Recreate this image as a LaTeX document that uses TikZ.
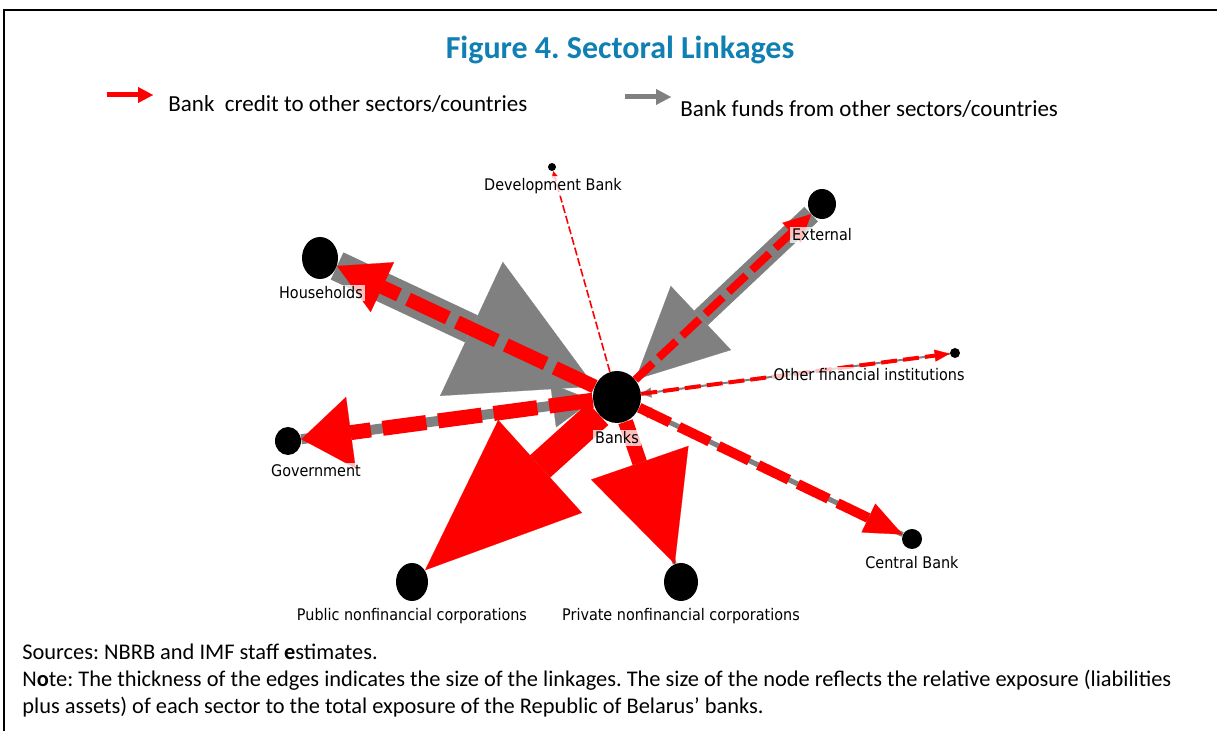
\documentclass[tikz,border=0pt]{standalone}
\usepackage{fontspec}
\setmainfont{Carlito}
\newfontfamily\netfont{DejaVu Sans Condensed}
\usepackage{tikz}
\usetikzlibrary{arrows.meta, shapes.geometric, backgrounds}
\definecolor{titleblue}{RGB}{16,128,178}
\definecolor{fundgray}{RGB}{128,128,128}
\definecolor{creditred}{RGB}{255,0,0}
\frenchspacing

\begin{document}
\begin{tikzpicture}[x=0.5pt, y=-0.5pt,
  sector/.style={ellipse, fill=black, inner sep=0pt},
  netlabel/.style={font=\netfont\fontsize{8}{9}\selectfont, fill=white, fill opacity=0.75, text opacity=1, inner sep=1pt},
  funds/.style={draw=fundgray},
  credit/.style={draw=creditred},
  note/.style={anchor=west, inner sep=0pt, font=\fontsize{11.2}{13}\selectfont}]
\useasboundingbox (0,0) rectangle (1217,731);
\draw[line width=1.2pt] (4,731) -- (4,10) -- (1217,10);

% title and legend
\node[font=\fontsize{16}{18}\selectfont\bfseries, text=titleblue] (title) at (620,50) {Figure 4. Sectoral Linkages};
\coordinate (cr-a) at (107,95);
\coordinate (cr-b) at (153,95);
\coordinate (fd-a) at (625,97);
\coordinate (fd-b) at (671,97);
\draw[credit, line width=2.5pt, -{Triangle[width=8pt, length=7.5pt, line width=0.1pt]}] (cr-a) -- (cr-b);
\draw[funds, line width=2.5pt, -{Triangle[width=8pt, length=7.5pt, line width=0.1pt]}] (fd-a) -- (fd-b);
\node[note, font=\fontsize{11.5}{14}\selectfont] (cr-text) at (168,104) {Bank\ \ credit to other sectors/countries};
\node[note, font=\fontsize{11.5}{14}\selectfont] (fd-text) at (680,109) {Bank funds from other sectors/countries};

% sectors
\node[sector, minimum width=24pt, minimum height=26pt] (banks) at (617,397) {};
\node[sector, minimum width=18pt, minimum height=21pt] (hh) at (320,258) {};
\node[sector, minimum width=14pt, minimum height=15pt] (ext) at (822,204) {};
\node[sector, minimum size=4pt] (devb) at (552,167) {};
\node[sector, minimum size=5pt] (ofi) at (955,353) {};
\node[sector, minimum width=13pt, minimum height=14pt] (gov) at (288,441) {};
\node[sector, minimum size=10pt] (cb) at (912,539) {};
\node[sector, minimum width=16pt, minimum height=19pt] (pub) at (412,582) {};
\node[sector, minimum width=17pt, minimum height=19pt] (priv) at (681,582) {};

\begin{scope}[on background layer]
% funds into the banks
\draw[funds, line width=15pt, -{Triangle[width=74pt, length=68pt, line width=0.1pt]}] (hh) -- (banks);
\draw[funds, line width=10pt, -{Triangle[width=44pt, length=45pt, line width=0.1pt]}] (ext) -- (banks);
\draw[funds, line width=5pt, -{Triangle[width=22pt, length=20pt, line width=0.1pt]}] (gov) -- (banks);
\draw[funds, line width=2.5pt, -{Triangle[width=6pt, length=6pt, line width=0.1pt]}] (cb) -- (banks);
\draw[funds, line width=1pt, -{Triangle[width=5pt, length=5pt, line width=0.1pt]}] (ofi) -- (banks);
\draw[funds, line width=2pt, -{Triangle[width=7pt, length=7pt, line width=0.1pt]}] (priv) -- (banks);
% credit from the banks
\draw[credit, line width=7pt, dash pattern=on 22pt off 5pt, -{Triangle[width=27.5pt, length=25pt, line width=0.1pt]}] (banks) -- (hh);
\draw[credit, line width=7.5pt, dash pattern=on 22pt off 6pt, -{Triangle[width=36pt, length=25pt, line width=0.1pt]}] (banks) -- (gov);
\draw[credit, line width=4pt, dash pattern=on 12pt off 4pt, -{Triangle[width=13.5pt, length=13.5pt, line width=0.1pt]}] (banks) -- (ext);
\draw[credit, line width=5pt, dash pattern=on 17pt off 5pt, -{Triangle[width=16pt, length=19pt, line width=0.1pt]}] (banks) -- (cb);
\draw[credit, line width=2pt, dash pattern=on 8pt off 3pt, -{Triangle[width=6pt, length=7.5pt, line width=0.1pt]}] (banks) -- (ofi);
\draw[credit, line width=0.8pt, dash pattern=on 4pt off 1.5pt, -{Triangle[width=3pt, length=3pt, line width=0.1pt]}] (banks) -- (devb);
\draw[credit, line width=15pt, -{Triangle[width=62.5pt, length=77.5pt, line width=0.1pt]}] (banks) -- (pub);
\draw[credit, line width=7.5pt, -{Triangle[width=51.5pt, length=53.5pt, line width=0.1pt]}] (banks) -- (priv);
\end{scope}

% sector names
\node[netlabel] (banks-lbl) at (617,438) {Banks};
\node[netlabel] (hh-lbl) at (321,293) {Households};
\node[netlabel] (ext-lbl) at (822,235) {External};
\node[netlabel] (devb-lbl) at (553,186) {Development Bank};
\node[netlabel] (ofi-lbl) at (869,375) {Other financial institutions};
\node[netlabel] (gov-lbl) at (316,471) {Government};
\node[netlabel] (cb-lbl) at (912,563) {Central Bank};
\node[netlabel] (pub-lbl) at (412,616) {Public nonfinancial corporations};
\node[netlabel] (priv-lbl) at (681,616) {Private nonfinancial corporations};

% notes
\node[note] (src) at (22,652) {Sources: NBRB and IMF staff \textbf{e}stimates.};
\node[note] (note1) at (22,680) {N\textbf{o}te: The thickness of the edges indicates the size of the linkages. The size of the node reflects the relative exposure (liabilities};
\node[note] (note2) at (22,707) {plus assets) of each sector to the total exposure of the Republic of Belarus' banks.};
\end{tikzpicture}
\end{document}
